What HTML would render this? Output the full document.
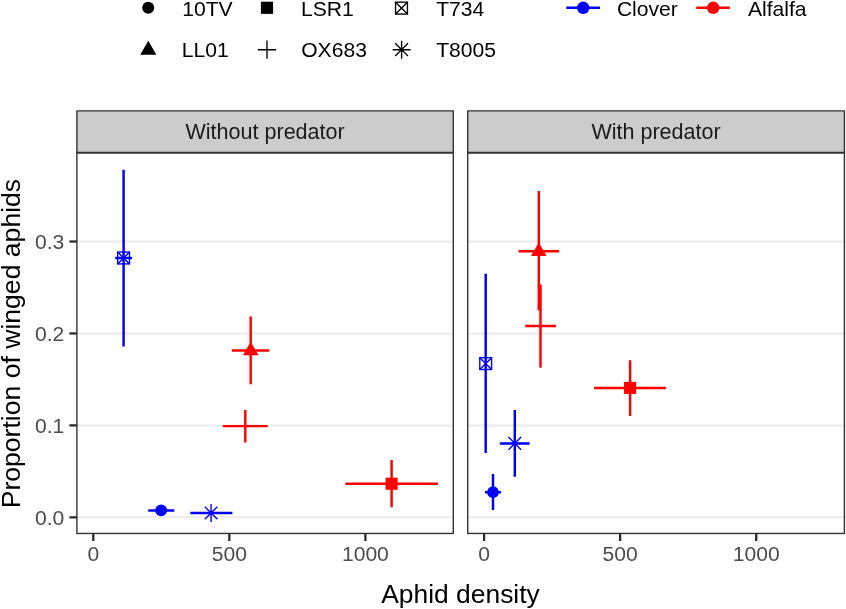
<!DOCTYPE html>
<html lang="en"><head><meta charset="utf-8"><title>Proportion of winged aphids vs aphid density</title>
<style>
html,body{margin:0;padding:0;background:#fff;}
body{width:846px;height:609px;overflow:hidden;}
svg{display:block;font-family:"Liberation Sans",Arial,sans-serif;will-change:transform;}
.leg{font-size:21.1px;fill:#000;}
.ax{font-size:21.1px;fill:#4D4D4D;}
.st{font-size:21.55px;fill:#1A1A1A;}
.ti{font-size:26.4px;fill:#000;}
.eb{stroke-width:2.45;stroke-linecap:butt;fill:none;}
.b{stroke:#0000FF;} .r{stroke:#FF0000;}
.bf{fill:#0000FF;} .rf{fill:#FF0000;}
.mk{stroke-width:1.4;fill:none;}
.grid{stroke:#EBEBEB;stroke-width:2;}
.bord{stroke:#333333;stroke-width:1.4;fill:none;}
.tick{stroke:#2B2B2B;stroke-width:2.3;}
</style></head><body>
<svg width="846" height="609" viewBox="0 0 846 609">
<rect x="0" y="0" width="846" height="609" fill="#FFFFFF"/>

<g id="legend-shape">
<circle cx="148.2" cy="7.8" r="6.0" fill="#000"/>
<rect x="260.9" y="1.7" width="12.2" height="12.2" fill="#000"/>
<g stroke="#000" stroke-width="1.35" fill="none"><rect x="395.55" y="2.1499999999999995" width="11.9" height="11.9"/><path d="M395.55 2.1499999999999995L407.45 14.05M395.55 14.05L407.45 2.1499999999999995"/></g>
<polygon points="148.3,40.70 156.35,54.65 140.25,54.65" fill="#000"/>
<path d="M257.9 49.7H276.1M267.0 40.6V58.800000000000004" stroke="#000" stroke-width="1.35" fill="none"/>
<path d="M392.6 49.7H410.6M401.6 40.7V58.7M395.20000000000005 43.300000000000004L408.0 56.1M395.20000000000005 56.1L408.0 43.300000000000004" stroke="#000" stroke-width="1.35" fill="none"/>
</g>
<g class="leg">
<text x="182.2" y="15.6">10TV</text>
<text x="301.0" y="15.6">LSR1</text>
<text x="436.2" y="15.6">T734</text>
<text x="181.8" y="57.4">LL01</text>
<text x="301.2" y="57.4">OX683</text>
<text x="436.2" y="57.4">T8005</text>
<text x="616.9" y="15.6">Clover</text>
<text x="747.9" y="15.6">Alfalfa</text>
</g>
<path class="eb b" d="M566.3 7.8H600.0"/><circle cx="583.2" cy="7.8" r="6.2" class="bf"/>
<path class="eb r" d="M696.3 7.8H729.8"/><circle cx="713.2" cy="7.8" r="6.2" class="rf"/>
<path class="grid" d="M76.9 517.35H453.3"/>
<path class="grid" d="M76.9 425.40H453.3"/>
<path class="grid" d="M76.9 333.45H453.3"/>
<path class="grid" d="M76.9 241.50H453.3"/>
<rect x="76.9" y="110.9" width="376.4" height="41.55" fill="#CCCCCC" stroke="#333333" stroke-width="1.4" stroke-linejoin="round"/>
<text class="st" x="265.10" y="138.8" text-anchor="middle">Without predator</text>
<path class="grid" d="M467.7 517.35H844.4"/>
<path class="grid" d="M467.7 425.40H844.4"/>
<path class="grid" d="M467.7 333.45H844.4"/>
<path class="grid" d="M467.7 241.50H844.4"/>
<rect x="467.7" y="110.9" width="376.7" height="41.55" fill="#CCCCCC" stroke="#333333" stroke-width="1.4" stroke-linejoin="round"/>
<text class="st" x="656.05" y="138.8" text-anchor="middle">With predator</text>
<g id="p1">
<path class="eb b" d="M115.2 258.0H132.0M123.6 169.8V346.4"/>
<g class="mk b"><rect x="117.70" y="252.10" width="11.8" height="11.8"/><path d="M117.70 252.10L129.50 263.90M117.70 263.90L129.50 252.10"/></g>
<path class="eb r" d="M231.9 350.5H269.3M250.7 316.6V384.3"/>
<polygon class="rf" points="250.7,341.65 258.49,355.15 242.91,355.15"/>
<path class="eb r" d="M222.9 426.1H267.7M245.3 410.1V442.4"/>
<path class="eb b" d="M148.2 510.4H174.3M161.1 506.5V514.0"/>
<circle class="bf" cx="161.1" cy="510.4" r="5.9"/>
<path class="eb b" d="M190.3 513.0H232.4M211.1 511.5V514.5"/>
<path class="mk b" d="M202.2 513.0H220.0M211.1 504.1V521.9M204.79999999999998 506.7L217.4 519.3M204.79999999999998 519.3L217.4 506.7"/>
<path class="eb r" d="M345.4 483.7H438.0M391.6 460.0V507.2"/>
<rect class="rf" x="385.55" y="477.65" width="12.1" height="12.1"/>
</g>
<g id="p2">
<path class="eb b" d="M484.6 363.6H486.8M485.7 273.8V452.9"/>
<g class="mk b"><rect x="479.80" y="357.70" width="11.8" height="11.8"/><path d="M479.80 357.70L491.60 369.50M479.80 369.50L491.60 357.70"/></g>
<path class="eb r" d="M518.6 251.3H559.1M538.8 191.0V310.6"/>
<polygon class="rf" points="538.8,242.50 546.59,256.00 531.01,256.00"/>
<path class="eb r" d="M525.2 326.0H556.0M540.5 284.6V367.8"/>
<path class="eb b" d="M485.0 492.2H501.0M493.0 474.1V510.0"/>
<circle class="bf" cx="493.0" cy="492.2" r="5.9"/>
<path class="eb b" d="M499.8 443.4H529.6M514.8 409.9V476.7"/>
<path class="mk b" d="M505.9 443.4H523.6999999999999M514.8 434.5V452.29999999999995M508.49999999999994 437.09999999999997L521.0999999999999 449.7M508.49999999999994 449.7L521.0999999999999 437.09999999999997"/>
<path class="eb r" d="M594.0 387.9H665.9M630.1 360.2V415.9"/>
<rect class="rf" x="624.05" y="381.85" width="12.1" height="12.1"/>
</g>
<rect class="bord" x="76.9" y="152.95" width="376.4" height="380.5"/>
<path class="tick" d="M93.30 533.45V541.0"/>
<text class="ax" x="93.30" y="561.25" text-anchor="middle">0</text>
<path class="tick" d="M229.35 533.45V541.0"/>
<text class="ax" x="229.35" y="561.25" text-anchor="middle">500</text>
<path class="tick" d="M365.40 533.45V541.0"/>
<text class="ax" x="365.40" y="561.25" text-anchor="middle">1000</text>
<rect class="bord" x="467.7" y="152.95" width="376.7" height="380.5"/>
<path class="tick" d="M484.10 533.45V541.0"/>
<text class="ax" x="484.10" y="561.25" text-anchor="middle">0</text>
<path class="tick" d="M620.15 533.45V541.0"/>
<text class="ax" x="620.15" y="561.25" text-anchor="middle">500</text>
<path class="tick" d="M756.20 533.45V541.0"/>
<text class="ax" x="756.20" y="561.25" text-anchor="middle">1000</text>
<path class="tick" d="M69.4 517.35H76.9"/>
<text class="ax" x="64.3" y="524.95" text-anchor="end">0.0</text>
<path class="tick" d="M69.4 425.40H76.9"/>
<text class="ax" x="64.3" y="433.00" text-anchor="end">0.1</text>
<path class="tick" d="M69.4 333.45H76.9"/>
<text class="ax" x="64.3" y="341.05" text-anchor="end">0.2</text>
<path class="tick" d="M69.4 241.50H76.9"/>
<text class="ax" x="64.3" y="249.10" text-anchor="end">0.3</text>
<text class="ti" x="460.5" y="603.0" text-anchor="middle">Aphid density</text>
<text class="ti" style="font-size:26.58px" transform="translate(19.7 343.6) rotate(-90)" text-anchor="middle">Proportion of winged aphids</text>
</svg></body></html>
